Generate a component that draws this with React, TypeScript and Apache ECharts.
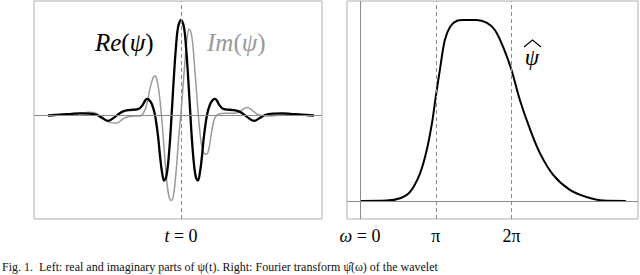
import React, { useEffect, useRef } from "react";
import * as echarts from "echarts";

// Left panel: time offset t (arbitrary units, 0 = centre) and wavelet values
const reT = [-133, -126, -118, -111, -101, -93, -84, -79, -73, -66, -59, -52, -46, -42, -38, -36, -34, -32, -29, -26, -23, -21, -19, -17, -15, -13, -11, -9, -7, -5, -3, 0, 3, 5, 7, 9, 11, 13, 15, 17, 19, 21, 23, 26, 29, 32, 34, 36, 38, 42, 46, 52, 59, 66, 73, 79, 84, 93, 101, 111, 118, 126, 133];
const reVal = [-0.007, 0.0, 0.007, 0.01, 0.018, 0.015, 0.0, -0.03, -0.063, -0.02, 0.033, 0.052, 0.057, 0.065, 0.11, 0.15, 0.17, 0.16, 0.11, 0.0, -0.22, -0.43, -0.6, -0.69, -0.66, -0.52, -0.27, 0.07, 0.42, 0.72, 0.92, 1.0, 0.92, 0.72, 0.42, 0.07, -0.27, -0.52, -0.66, -0.69, -0.6, -0.43, -0.22, 0.0, 0.11, 0.16, 0.17, 0.15, 0.11, 0.065, 0.057, 0.052, 0.033, -0.02, -0.063, -0.03, 0.0, 0.015, 0.018, 0.01, 0.007, 0.0, -0.007];

const imT = [-133, -120, -105, -92, -85, -78, -72, -64, -58, -52, -46, -41, -37, -34, -31, -28, -26, -24, -22, -20, -18, -16, -14, -12, -10, -8, -6, -4, -2, 0, 2, 4, 6, 8, 10, 12, 14, 16, 18, 20, 22, 24, 26, 28, 30, 32, 34, 38, 44, 52, 58, 62, 66, 70, 76, 80, 88, 100, 115, 133];
const imVal = [0.0, 0.005, 0.01, 0.03, 0.02, -0.03, -0.075, -0.085, -0.04, -0.015, -0.01, -0.01, 0.03, 0.12, 0.28, 0.39, 0.41, 0.37, 0.24, 0.05, -0.2, -0.48, -0.72, -0.86, -0.9, -0.87, -0.72, -0.48, -0.2, 0.03, 0.3, 0.57, 0.8, 0.905, 0.87, 0.72, 0.45, 0.18, -0.08, -0.28, -0.38, -0.41, -0.41, -0.35, -0.22, -0.1, -0.03, 0.01, 0.018, 0.018, 0.03, 0.06, 0.08, 0.06, 0.01, -0.005, -0.01, 0.0, 0.005, 0.0];

// Right panel: frequency omega in units of pi, and Fourier magnitude
const omega = [0, 0.35, 0.53, 0.66, 0.79, 0.88, 0.95, 1.0, 1.06, 1.12, 1.19, 1.28, 1.36, 1.54, 1.67, 1.78, 1.89, 2.0, 2.11, 2.25, 2.38, 2.55, 2.77, 3.0, 3.21, 3.51];
const psiHat = [0, 0.002, 0.015, 0.05, 0.15, 0.28, 0.43, 0.576, 0.74, 0.89, 0.963, 0.996, 1.0, 1.0, 0.985, 0.945, 0.85, 0.724, 0.558, 0.39, 0.26, 0.144, 0.061, 0.02, 0.002, 0];

const leftTicks = [0];
const rightTicks = [0, 1, 2];
const rightTickLabels = ["{i|ω} = 0", "π", "2π"];

const caption = "Fig. 1.  Left: real and imaginary parts of ψ(t). Right: Fourier transform ψ̂(ω) of the wavelet";

const FONT = "Liberation Serif";
const GRAY = "#8a8a8a";

export default function App() {
  const ref = useRef<HTMLDivElement>(null);
  useEffect(() => {
    if (!ref.current) return;
    const chart = echarts.init(ref.current, null, { renderer: "svg" });
    const zip = (xs: number[], ys: number[]) => xs.map((x, i) => [x, ys[i]]);
    const lineMark = (items: any[]) => ({
      silent: true,
      symbol: "none",
      label: { show: false },
      animation: false,
      data: items,
    });
    chart.setOption({
      animation: false,
      textStyle: { fontFamily: FONT },
      grid: [
        { left: 34, top: 1, width: 288, height: 218, show: true, borderColor: "#b0b0b0", borderWidth: 1, backgroundColor: "transparent" },
        { left: 347, top: 1, width: 291, height: 218, show: true, borderColor: "#b0b0b0", borderWidth: 1, backgroundColor: "transparent" },
      ],
      xAxis: [
        {
          gridIndex: 0, type: "value", min: -147, max: 141,
          axisLine: { show: false },
          splitLine: { show: false },
          axisTick: { show: true, customValues: leftTicks, length: 3, lineStyle: { color: GRAY } },
          axisLabel: {
            show: true, customValues: leftTicks, margin: 8,
            formatter: () => "{i|t} = 0",
            color: "#000", fontSize: 18, fontFamily: FONT,
            rich: { i: { fontStyle: "italic", fontSize: 18, fontFamily: FONT, color: "#000" } },
          },
        },
        {
          gridIndex: 1, type: "value", min: -0.172, max: 3.67,
          axisLine: { show: false },
          splitLine: { show: false },
          axisTick: { show: true, customValues: rightTicks, length: 3, lineStyle: { color: GRAY } },
          axisLabel: {
            show: true, customValues: rightTicks, margin: 8,
            formatter: (v: number) => rightTickLabels[rightTicks.indexOf(Math.round(v))] ?? "",
            color: "#000", fontSize: 18, fontFamily: FONT,
            rich: { i: { fontStyle: "italic", fontSize: 18, fontFamily: FONT, color: "#000" } },
          },
        },
      ],
      yAxis: [
        { gridIndex: 0, type: "value", min: -1.095, max: 1.2, show: false },
        { gridIndex: 1, type: "value", min: -0.1, max: 1.105, show: false },
      ],
      series: [
        {
          type: "line", xAxisIndex: 0, yAxisIndex: 0, data: zip(imT, imVal),
          showSymbol: false, smooth: 0.35, lineStyle: { color: "#9a9a9a", width: 1.5 },
          z: 2,
          markLine: lineMark([
            { yAxis: 0, lineStyle: { color: GRAY, width: 1, type: "solid" } },
            { xAxis: 0, lineStyle: { color: GRAY, width: 1, type: [4, 3] } },
          ]),
        },
        {
          type: "line", xAxisIndex: 0, yAxisIndex: 0, data: zip(reT, reVal),
          showSymbol: false, smooth: 0.35, lineStyle: { color: "#000", width: 2.3 },
          z: 3,
        },
        {
          type: "line", xAxisIndex: 1, yAxisIndex: 1, data: zip(omega, psiHat),
          showSymbol: false, smooth: 0.35, lineStyle: { color: "#000", width: 2 },
          z: 3,
          markLine: lineMark([
            { yAxis: 0, lineStyle: { color: GRAY, width: 1, type: "solid" } },
            { xAxis: 0, lineStyle: { color: GRAY, width: 1, type: "solid" } },
            { xAxis: 1, lineStyle: { color: GRAY, width: 1, type: [4, 3] } },
            { xAxis: 2, lineStyle: { color: GRAY, width: 1, type: [4, 3] } },
          ]),
        },
      ],
      graphic: [
        {
          type: "text", left: 95, top: 30,
          style: {
            text: "{i|Re}({i|ψ})", fill: "#000", fontSize: 25, fontFamily: FONT,
            rich: { i: { fontStyle: "italic", fontSize: 25, fontFamily: FONT, fill: "#000" } },
          },
        },
        {
          type: "text", left: 207, top: 30,
          style: {
            text: "{i|Im}({i|ψ})", fill: "#999", fontSize: 25, fontFamily: FONT,
            rich: { i: { fontStyle: "italic", fontSize: 25, fontFamily: FONT, fill: "#999" } },
          },
        },
        {
          type: "text", x: 532, y: 57,
          style: { text: "ψ", fill: "#000", fontSize: 23, fontStyle: "italic", fontFamily: FONT, align: "center", verticalAlign: "middle" },
        },
        {
          type: "polyline",
          shape: { points: [[524, 47], [532.5, 40], [541, 47]] },
          style: { stroke: "#000", lineWidth: 1.1, fill: null },
        },
        {
          type: "text", left: 2, top: 261,
          style: { text: caption, fill: "#111", fontSize: 12, fontFamily: FONT },
        },
      ],
    });
    return () => chart.dispose();
  }, []);
  return (
    <div
      ref={ref}
      style={{ position: "fixed", left: 0, top: 0, width: 640, height: 275, background: "#fff" }}
    />
  );
}
